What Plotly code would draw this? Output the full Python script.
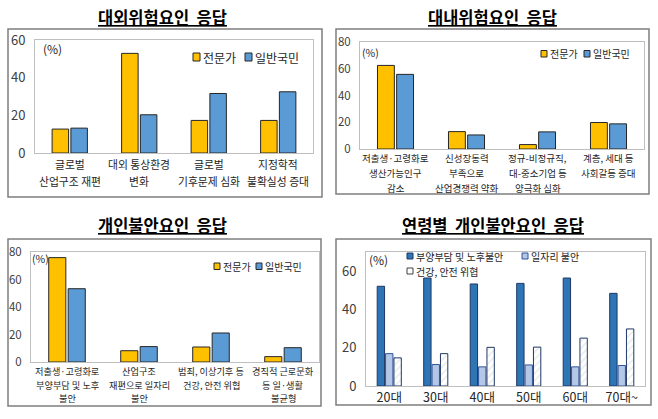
import plotly.graph_objects as go

W, H = 658, 419
FONT = "Noto Sans CJK KR"

# ---------------- data ----------------
ext_cats = ["글로벌<br>산업구조 재편", "대외 통상환경<br>변화", "글로벌<br>기후문제 심화", "지정학적<br>불확실성 증대"]
ext_expert = [12.7, 52.9, 17.3, 17.3]
ext_public = [13.2, 20.3, 31.6, 32.5]

int_cats = ["저출생·고령화로<br>생산가능인구<br>감소", "신성장동력<br>부족으로<br>산업경쟁력 약화",
            "정규-비정규직,<br>대-중소기업 등<br>양극화 심화", "계층, 세대 등<br>사회갈등 증대"]
int_expert = [62.5, 13.0, 3.3, 19.8]
int_public = [55.8, 10.5, 12.8, 18.8]

per_cats = ["저출생·고령화로<br>부양부담 및 노후<br>불안", "산업구조<br>재편으로 일자리<br>불안",
            "범죄, 이상기후 등<br>건강, 안전 위협", "경직적 근로문화<br>등 일·생활<br>불균형"]
per_expert = [75.9, 8.2, 10.9, 3.9]
per_public = [53.3, 11.2, 21.1, 10.4]

age_cats = ["20대", "30대", "40대", "50대", "60대", "70대~"]
age_burden = [52.1, 56.4, 53.3, 53.6, 56.4, 48.4]
age_job = [16.9, 11.2, 10.0, 11.0, 10.0, 10.7]
age_safety = [14.7, 16.9, 20.2, 20.3, 25.0, 29.8]

titles = ["대외위험요인  응답", "대내위험요인  응답", "개인불안요인  응답", "연령별  개인불안요인  응답"]
pair_names = ["전문가", "일반국민"]
age_names = ["부양부담 및 노후불안", "일자리 불안", "건강, 안전 위협"]

# ---------------- styles ----------------
def px(x):
    return x / W

def py(y):
    return 1 - y / H

GOLD = "#FFC000"
BLUE = "#5B9BD5"
OUT = "#262626"
DARKB, DARKB_L = "#2E75B6", "#1F3864"
LIGHTB, LIGHTB_L = "#B4C7E7", "#2F5597"
HATCH = dict(shape="/", fgcolor="#C9CED6", bgcolor="white", size=5, solidity=0.25)

fig = go.Figure()

def add_pair(cats, e, p, n):
    xa = "x" if n == 1 else f"x{n}"
    ya = "y" if n == 1 else f"y{n}"
    fig.add_trace(go.Bar(x=cats, y=e, name=pair_names[0], xaxis=xa, yaxis=ya, showlegend=False,
                         marker=dict(color=GOLD, line=dict(color=OUT, width=1))))
    fig.add_trace(go.Bar(x=cats, y=p, name=pair_names[1], xaxis=xa, yaxis=ya, showlegend=False,
                         marker=dict(color=BLUE, line=dict(color=OUT, width=1))))

add_pair(ext_cats, ext_expert, ext_public, 1)
add_pair(int_cats, int_expert, int_public, 2)
add_pair(per_cats, per_expert, per_public, 3)

fig.add_trace(go.Bar(x=age_cats, y=age_burden, name=age_names[0], xaxis="x4", yaxis="y4", showlegend=False,
                     marker=dict(color=DARKB, line=dict(color=DARKB_L, width=1))))
fig.add_trace(go.Bar(x=age_cats, y=age_job, name=age_names[1], xaxis="x4", yaxis="y4", showlegend=False,
                     marker=dict(color=LIGHTB, line=dict(color=LIGHTB_L, width=1))))
fig.add_trace(go.Bar(x=age_cats, y=age_safety, name=age_names[2], xaxis="x4", yaxis="y4", showlegend=False,
                     marker=dict(color="white", line=dict(color=DARKB_L, width=1), pattern=HATCH)))

# plot areas (left, top, right, bottom) in px
areas = {
    1: (35, 40, 313, 153),
    2: (360, 42, 644, 149),
    3: (31, 252, 319, 362),
    4: (366, 252, 645, 386),
}
yranges = {1: [0, 60], 2: [0, 80], 3: [0, 80], 4: [0, 70]}
yfont = {1: 13, 2: 11.5, 3: 11.5, 4: 13}

layout = dict(
    width=W, height=H, margin=dict(l=0, r=0, t=0, b=0),
    paper_bgcolor="white", plot_bgcolor="white",
    barmode="group", bargap=0.46, bargroupgap=0.12, showlegend=False,
    font=dict(family=FONT, color="#262626"),
)
for n, (l, t, r, b) in areas.items():
    sx = "xaxis" if n == 1 else f"xaxis{n}"
    sy = "yaxis" if n == 1 else f"yaxis{n}"
    ya = "y" if n == 1 else f"y{n}"
    xa = "x" if n == 1 else f"x{n}"
    layout[sx] = dict(domain=[px(l), px(r)], anchor=ya, showline=True, mirror=True,
                      linecolor="#BFBFBF", linewidth=1, showgrid=False, ticks="", tickangle=0,
                      automargin=False, showticklabels=(n == 4),
                      tickfont=dict(size=12.5, color="#262626", family=FONT), fixedrange=True)
    layout[sy] = dict(domain=[py(b), py(t)], anchor=xa, range=yranges[n], dtick=20,
                      showline=True, mirror=True, linecolor="#BFBFBF", linewidth=1,
                      showgrid=False, zeroline=False, ticks="", ticklabelstandoff=6,
                      automargin=False,
                      tickfont=dict(size=yfont[n], color="#404040", family=FONT), fixedrange=True)

fig.update_layout(**layout)

# multi-line category labels placed at each category on its axis (wider line spacing than tick labels)
cat_label_cfg = [
    ("x", ext_cats, 164, 17, 10.8),
    ("x2", int_cats, 158, 15, 9.5),
    ("x3", per_cats, 371, 13.5, 9.2),
]
for xref, cats, y0, step, size in cat_label_cfg:
    for c in cats:
        for i, line in enumerate(c.split("<br>")):
            fig.add_annotation(text=line, xref=xref, yref="paper", x=c, y=py(y0 + i * step),
                               showarrow=False, xanchor="center", yanchor="middle",
                               font=dict(size=size, family=FONT, color="#262626"))

# outer boxes
boxes = [(8, 29, 322, 197), (336, 29, 649, 194), (8, 239, 321, 406), (336, 239, 651, 405)]
for (l, t, r, b) in boxes:
    fig.add_shape(type="rect", xref="paper", yref="paper", x0=px(l), x1=px(r), y0=py(b), y1=py(t),
                  line=dict(color="#7F7F7F", width=1.5), layer="below")

# titles
title_pos = [(162, 17), (492, 17), (162, 225), (493, 225)]
for txt, (x, y) in zip(titles, title_pos):
    fig.add_annotation(text=f"<b><span style='text-decoration:underline'>{txt}</span></b>",
                       xref="paper", yref="paper", x=px(x), y=py(y), showarrow=False,
                       xanchor="center", yanchor="middle",
                       font=dict(size=16.5, family=FONT, color="#000000"))

# (%) labels
pct_pos = [(52, 49, 12), (370, 52, 10.5), (40, 258, 10.5), (378, 259, 12)]
for (x, y, s) in pct_pos:
    fig.add_annotation(text="(%)", xref="paper", yref="paper", x=px(x), y=py(y), showarrow=False,
                       xanchor="center", yanchor="middle", font=dict(size=s, family=FONT, color="#262626"))

# legends
def legend_item(x0, y0, w, h, label, fill, line, size):
    fig.add_shape(type="rect", xref="paper", yref="paper", x0=px(x0), x1=px(x0 + w),
                  y0=py(y0 + h), y1=py(y0), fillcolor=fill, line=dict(color=line, width=1))
    fig.add_annotation(text=label, xref="paper", yref="paper", x=px(x0 + w + 1), y=py(y0 + h / 2),
                       showarrow=False, xanchor="left", yanchor="middle",
                       font=dict(size=size, family=FONT, color="#262626"))

legend_item(193, 53, 7, 8, pair_names[0], GOLD, OUT, 12)
legend_item(245, 53, 7, 8, pair_names[1], BLUE, OUT, 12)
legend_item(541, 50.5, 6, 6.5, pair_names[0], GOLD, OUT, 10)
legend_item(584, 50.5, 6, 6.5, pair_names[1], BLUE, OUT, 10)
legend_item(214, 263, 6, 6.5, pair_names[0], GOLD, OUT, 10)
legend_item(256, 263, 6, 6.5, pair_names[1], BLUE, OUT, 10)
legend_item(407, 253, 6, 6, age_names[0], DARKB, DARKB_L, 10)
legend_item(522, 253, 6, 6, age_names[1], LIGHTB, LIGHTB_L, 10)
legend_item(407, 268, 6, 6, age_names[2], "white", "#404040", 10)

fig.write_html("out.html", config={"displayModeBar": False},
               post_script="document.body.style.margin='0';document.body.style.padding='0';"
                           "document.body.style.overflow='hidden';")
